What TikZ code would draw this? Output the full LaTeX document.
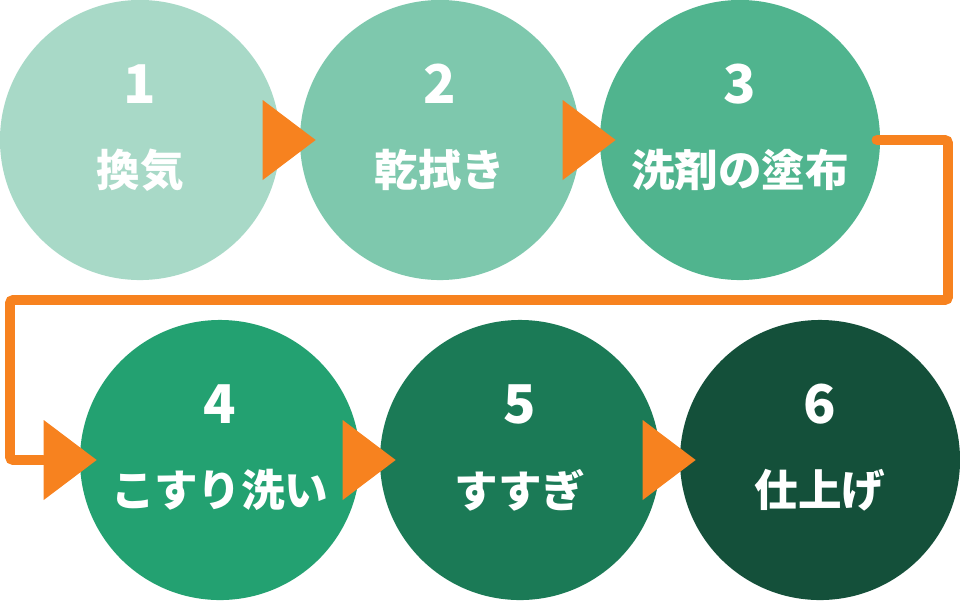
\documentclass[tikz,border=0pt]{standalone}
\usepackage{fontspec}
\usepackage{tikz}
\usetikzlibrary{calc}
\newfontfamily\jpfont{Noto Sans CJK JP}
\definecolor{stepA}{HTML}{A8D9C7}
\definecolor{stepB}{HTML}{7EC8AD}
\definecolor{stepC}{HTML}{50B48E}
\definecolor{stepD}{HTML}{23A171}
\definecolor{stepE}{HTML}{1B7A56}
\definecolor{stepF}{HTML}{14503A}
\definecolor{flowor}{HTML}{F7821F}

\begin{document}
\begin{tikzpicture}[
    x=0.025cm, y=-0.025cm,
    stepdisc/.style={circle, fill=#1, minimum size=7cm, inner sep=0pt},
    stepnum/.style={text=white, font=\jpfont\bfseries\fontsize{38}{38}\selectfont},
    steptext/.style={text=white, font=\jpfont\bfseries\fontsize{31}{31}\selectfont},
    flowline/.style={draw=flowor, line width=6.8pt, rounded corners=2pt, line cap=round},
    flowtip/.style={fill=flowor},
]
    \useasboundingbox (0,0) rectangle (960,600);
    % circles
    \node[stepdisc=stepA] (s1) at (140,140) {};
    \node[stepdisc=stepB] (s2) at (440,140) {};
    \node[stepdisc=stepC] (s3) at (740,140) {};
    \node[stepdisc=stepD] (s4) at (220,460) {};
    \node[stepdisc=stepE] (s5) at (520,460) {};
    \node[stepdisc=stepF] (s6) at (820,460) {};

    % labels
    \foreach \s/\n/\t in {s1/1/換気, s2/2/乾拭き, s3/3/洗剤の塗布,
                          s4/4/こすり洗い, s5/5/すすぎ, s6/6/仕上げ} {
        \node[stepnum] (\s num) at ($(\s.center)+(0,-56)$) {\n};
        \node[steptext] (\s txt) at ($(\s.center)+(0,30)$) {\t};
    }

    % connector from 3 to 4
    \coordinate (turnA) at (948,140);
    \coordinate (turnB) at (948,300);
    \coordinate (turnC) at (10,300);
    \coordinate (turnD) at (10,460);
    \coordinate (tipC) at ($(s4.west)+(17,0)$);
    \draw[flowline] ($(s3.east)+(-4,0)$) -- (turnA) -- (turnB) -- (turnC) -- (turnD) -- ($(tipC)+(-53,0)$);

    % arrow heads
    \coordinate (tipA) at ($(s2.west)+(16,0)$);
    \coordinate (tipB) at ($(s3.west)+(16,0)$);
    \coordinate (tipD) at ($(s5.west)+(16,0)$);
    \coordinate (tipE) at ($(s6.west)+(16,0)$);
    \foreach \p in {tipA, tipB, tipC, tipD, tipE}
        \fill[flowtip] (\p) -- ++(-53,-40) -- ++(0,80) -- cycle;
\end{tikzpicture}
\end{document}
